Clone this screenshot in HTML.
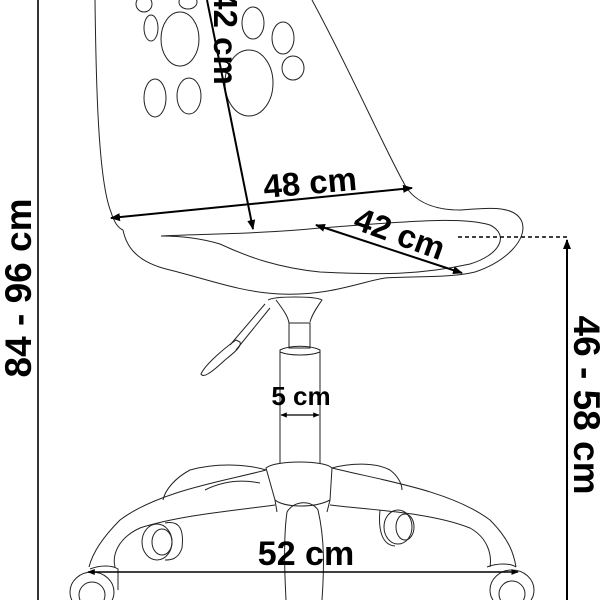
<!DOCTYPE html>
<html><head><style>html,body{margin:0;padding:0;background:#fff;width:600px;height:600px;overflow:hidden}</style></head>
<body>
<svg width="600" height="600" viewBox="0 0 600 600" xmlns="http://www.w3.org/2000/svg">
<defs>
<marker id="a" viewBox="0 0 10 10" refX="9" refY="5" markerWidth="5" markerHeight="5" orient="auto-start-reverse"><path d="M0,1 L10,5 L0,9z" fill="#000"/></marker>
</defs>
<g fill="none" stroke="#222" stroke-width="1">
<path d="M95,0 C96,80 98,180 111,212 C114,222 118,228 123,230"/>
<path d="M312,0 C350,70 385,150 406,187 C418,205 440,210 460,210 C490,208 515,205 522,222 C528,240 505,262 475,272"/>
<path d="M123,230 C126,245 135,262 170,270 C210,280 240,292 280,294 C330,296 360,282 385,278 C420,276 450,278 475,272"/>
<path d="M161,236 C200,234 260,234 320,228 C400,222 460,216 490,225 C510,235 500,255 470,264 C420,275 380,275 320,272 C280,268 250,258 220,244 C200,238 180,236 161,236 Z"/>
<ellipse cx="180" cy="39" rx="19" ry="27"/>
<ellipse cx="151" cy="28" rx="7" ry="13"/>
<ellipse cx="155" cy="98" rx="11" ry="19"/>
<ellipse cx="189" cy="96" rx="12" ry="18"/>
<ellipse cx="253" cy="23" rx="11" ry="16"/>
<ellipse cx="283" cy="38" rx="11" ry="16"/>
<ellipse cx="293" cy="68" rx="11" ry="12"/>
<ellipse cx="249" cy="83" rx="24" ry="33"/>
<ellipse cx="144" cy="4" rx="8" ry="8"/>
<ellipse cx="188" cy="2" rx="9" ry="7"/>
<path d="M268,300 C275,296 315,296 322,300 C318,306 312,314 310,322"/>
<path d="M276,300 C282,308 288,316 289,323"/>
<rect x="289" y="323" width="21" height="25"/>
<path d="M280,350 C290,345 310,345 320,350 L320,352 C310,356 290,356 280,352 Z"/>
<path d="M265,304 L230,345 M270,308 L236,350"/>
<path d="M236,340 C222,350 205,365 201,374 C203,378 210,374 225,360 C235,352 242,346 240,342 Z"/>
<path d="M280,352 L280,463 M320,352 L320,463"/>
<path d="M266,468 C275,460 325,460 332,468 L330,500 C315,508 285,508 275,500 Z"/>
<path d="M275,500 L277,512 M330,500 L327,512"/>
<path d="M287,512 C283,540 285,580 286,600 M322,600 C324,570 325,540 318,510 C312,500 294,500 287,512"/>
<path d="M266,470 C230,480 160,490 120,520 C100,540 92,555 89,567"/>
<path d="M275,505 C240,510 180,515 140,528 C118,538 112,555 115,567"/>
<path d="M266,470 C250,465 220,462 190,470 C175,478 165,490 163,500"/>
<path d="M260,483 C245,480 225,480 205,490"/>
<path d="M332,468 C380,480 450,490 490,520 C510,540 514,555 516,567"/>
<path d="M330,505 C370,510 430,512 470,528 C488,538 492,555 490,567"/>
<path d="M332,468 C350,463 375,462 390,470 C398,476 402,484 402,490"/>
<ellipse cx="157" cy="542" rx="15" ry="18"/><ellipse cx="162" cy="542" rx="10" ry="13"/>
<path d="M165,523 C180,520 184,530 182,548 C178,560 170,560 165,560"/>
<ellipse cx="398" cy="527" rx="14" ry="17"/><ellipse cx="405" cy="527" rx="9" ry="13"/>
<path d="M380,510 C378,530 382,545 395,546"/>
<ellipse cx="92" cy="592" rx="22" ry="20"/><ellipse cx="92" cy="595" rx="13" ry="13"/>
<ellipse cx="512" cy="590" rx="22" ry="20"/><ellipse cx="512" cy="594" rx="13" ry="13"/>
<path d="M90,569 C100,565 112,565 118,569 L118,590 M487,567 C497,563 510,563 516,567"/>
</g>
<g stroke="#000" stroke-width="2" fill="none">
<line x1="38" y1="0" x2="38" y2="600" stroke-width="1.6"/>
<line x1="567" y1="600" x2="567" y2="240" marker-end="url(#a)"/>
<line x1="458" y1="237" x2="567" y2="237" stroke-dasharray="4,3" stroke-width="1.5"/>
<line x1="207" y1="0" x2="253" y2="229" marker-end="url(#a)"/>
<line x1="111" y1="218" x2="412" y2="188" marker-start="url(#a)" marker-end="url(#a)"/>
<line x1="316" y1="225" x2="462" y2="273" marker-start="url(#a)" marker-end="url(#a)"/>
<line x1="281" y1="415" x2="319" y2="415" stroke-width="1.3" marker-start="url(#a)" marker-end="url(#a)"/>
<line x1="88" y1="572" x2="518" y2="572" stroke-width="1.5" marker-start="url(#a)" marker-end="url(#a)"/>
</g>
<g font-family="'Liberation Sans',sans-serif" font-weight="bold" fill="#000" text-anchor="middle">
<text x="0" y="0" font-size="37" transform="translate(31,288) rotate(-90)">84 - 96 cm</text>
<text x="0" y="0" font-size="37" transform="translate(574,405) rotate(90)">46 - 58 cm</text>
<text x="0" y="0" font-size="33" transform="translate(214,38) rotate(90)">42 cm</text>
<text x="310" y="194" font-size="33" transform="rotate(-5 310 182)">48 cm</text>
<text x="400" y="245" font-size="33" transform="rotate(20 400 233)">42 cm</text>
<text x="301" y="405" font-size="26">5 cm</text>
<text x="306" y="565" font-size="34">52 cm</text>
</g>
</svg>
</body></html>
